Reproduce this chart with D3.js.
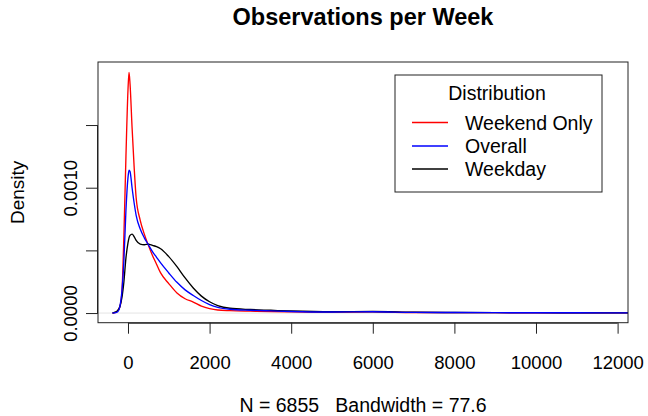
<!DOCTYPE html>
<html>
<head>
<meta charset="utf-8">
<script src="https://cdn.jsdelivr.net/npm/d3@7"></script>
<style>
  html, body { margin: 0; padding: 0; background: #fff; }
  svg { display: block; font-family: "Liberation Sans", Arial, sans-serif; }
</style>
</head>
<body>
<svg id="chart" width="648" height="416"></svg>
<script>
// ---- data ----
const gridX = [-380, -300, -250, -200, -150, -100, -50, 0, 25, 50, 100, 150, 200, 300, 400, 500, 600, 700, 800, 1000, 1200, 1400, 1600, 1800, 2000, 2200, 2500, 3000, 3500, 4000, 5000, 6000, 7000, 8000, 9000, 10000, 11000, 12300];
const weekendOnly = [0, 0.000005, 0.00002, 0.00005, 0.00016, 0.00062, 0.00125, 0.00178, 0.00192, 0.00183, 0.00148, 0.00117, 0.00092, 0.00074, 0.00063, 0.00054, 0.00046, 0.00039, 0.00032, 0.000235, 0.00016, 0.000114, 0.000088, 0.000055, 0.000035, 0.000024, 0.000019, 0.000015, 0.000012, 0.00001, 0.000007, 0.000009, 0.000004, 0.000003, 0.000003, 0.000002, 0.000002, 0.000001];
const overall = [0, 0.000003, 0.00001, 0.00005, 0.00017, 0.00042, 0.00082, 0.00108, 0.00114, 0.00113, 0.00100, 0.00088, 0.00078, 0.00067, 0.00060, 0.000545, 0.00049, 0.000445, 0.0004, 0.00032, 0.000245, 0.000185, 0.00014, 0.0001, 0.000067, 0.000045, 0.00003, 0.000022, 0.000017, 0.000012, 0.000008, 0.00001, 0.000005, 0.000004, 0.000003, 0.000002, 0.000002, 0.000001];
const weekday = [0, 0.00001, 0.00002, 0.00005, 0.00012, 0.00025, 0.00044, 0.00056, 0.0006, 0.00062, 0.00063, 0.00061, 0.00058, 0.00055, 0.000545, 0.00055, 0.00054, 0.00053, 0.000513, 0.00045, 0.00037, 0.00028, 0.0002, 0.000135, 0.00009, 0.00006, 0.000038, 0.000028, 0.000022, 0.000016, 0.00001, 0.000012, 0.000006, 0.000004, 0.000003, 0.000003, 0.000002, 0.000001];
const seriesNames = ["Weekend Only", "Overall", "Weekday"];
const seriesColors = ["#ff0000", "#0000ff", "#000000"];
const xTicks = [0, 2000, 4000, 6000, 8000, 10000, 12000];
const yTicks = [0, 0.0005, 0.0010, 0.0015];
const yTickLabels = ["0.0000", "", "0.0010", ""];
const titleText = "Observations per Week";
const subText = "N = 6855   Bandwidth = 77.6";
const yLabelText = "Density";
const legendTitle = "Distribution";

// ---- layout ----
const svg = d3.select("#chart");
const L = 98, R = 628, T = 62, B = 322.7;
const x = d3.scaleLinear().domain([-735, 12255]).range([L, R]);
const y = d3.scaleLinear().domain([-0.000077, 0.002003]).range([B, T]);
const fs = 18.5;

// title
svg.append("text").attr("x", (L + R) / 2).attr("y", 25)
  .attr("text-anchor", "middle").attr("font-weight", "bold")
  .attr("font-size", 23.5).text(titleText);

// sub title
svg.append("text").attr("x", (L + R) / 2).attr("y", 412)
  .attr("text-anchor", "middle").attr("font-size", 19.5)
  .style("white-space", "pre").attr("xml:space", "preserve").text(subText);

// y label
svg.append("text").attr("transform", `translate(${24},${(T + B) / 2}) rotate(-90)`)
  .attr("text-anchor", "middle").attr("font-size", 19).text(yLabelText);

// clip
svg.append("clipPath").attr("id", "clip").append("rect")
  .attr("x", L).attr("y", T).attr("width", R - L).attr("height", B - T);

// zero line
svg.append("line").attr("x1", L).attr("x2", R).attr("y1", y(0)).attr("y2", y(0))
  .attr("stroke", "#d0d0d0").attr("stroke-width", 0.6);

// curves
const seriesData = [weekendOnly, overall, weekday];
const line = d3.line().x(d => x(d[0])).y(d => y(d[1])).curve(d3.curveMonotoneX);
const drawOrder = [0, 2, 1];
const g = svg.append("g").attr("clip-path", "url(#clip)");
drawOrder.forEach(i => {
  g.append("path")
    .datum(gridX.map((v, k) => [v, seriesData[i][k]]))
    .attr("d", line).attr("fill", "none")
    .attr("stroke", seriesColors[i]).attr("stroke-width", 1.35)
    .attr("stroke-linejoin", "round");
});

// box
svg.append("rect").attr("x", L).attr("y", T).attr("width", R - L).attr("height", B - T)
  .attr("fill", "none").attr("stroke", "#222").attr("stroke-width", 1);

// x axis
const xAxis = d3.axisBottom(x).tickValues(xTicks).tickFormat(d3.format("d")).tickSize(11).tickPadding(0);
const gx = svg.append("g").attr("transform", `translate(0,${B})`).call(xAxis);
gx.select(".domain").attr("d", `M${x(0)},0.5H${x(12000)}`).attr("stroke", "#222");
gx.selectAll(".tick line").attr("stroke", "#222");
gx.selectAll(".tick text").attr("font-size", fs).attr("font-family", "Liberation Sans, Arial, sans-serif")
  .attr("fill", "#000").attr("dy", null).attr("y", 46.5);

// y axis
const yAxis = d3.axisLeft(y).tickValues(yTicks).tickFormat((d, i) => yTickLabels[i]).tickSize(12).tickPadding(0);
const gy = svg.append("g").attr("transform", `translate(${L},0)`).call(yAxis);
gy.select(".domain").attr("d", `M-0.5,${y(0)}V${y(0.0015)}`).attr("stroke", "#222");
gy.selectAll(".tick line").attr("stroke", "#222");
gy.selectAll(".tick text").attr("font-size", fs).attr("font-family", "Liberation Sans, Arial, sans-serif")
  .attr("fill", "#000").attr("x", null).attr("dy", null)
  .attr("text-anchor", "middle").attr("transform", "translate(-21,0) rotate(-90)");

// legend
const lg = svg.append("g");
lg.append("rect").attr("x", 395).attr("y", 75).attr("width", 207).attr("height", 117)
  .attr("fill", "#fff").attr("stroke", "#222").attr("stroke-width", 1);
lg.append("text").attr("x", 497).attr("y", 100).attr("text-anchor", "middle")
  .attr("font-size", 19.5).text(legendTitle);
const legY = [122.5, 146, 169];
seriesNames.forEach((n, i) => {
  lg.append("line").attr("x1", 412).attr("x2", 448).attr("y1", legY[i]).attr("y2", legY[i])
    .attr("stroke", seriesColors[i]).attr("stroke-width", 1.3);
  lg.append("text").attr("x", 465).attr("y", legY[i] + 7).attr("font-size", 19.5).text(n);
});
</script>
</body>
</html>
